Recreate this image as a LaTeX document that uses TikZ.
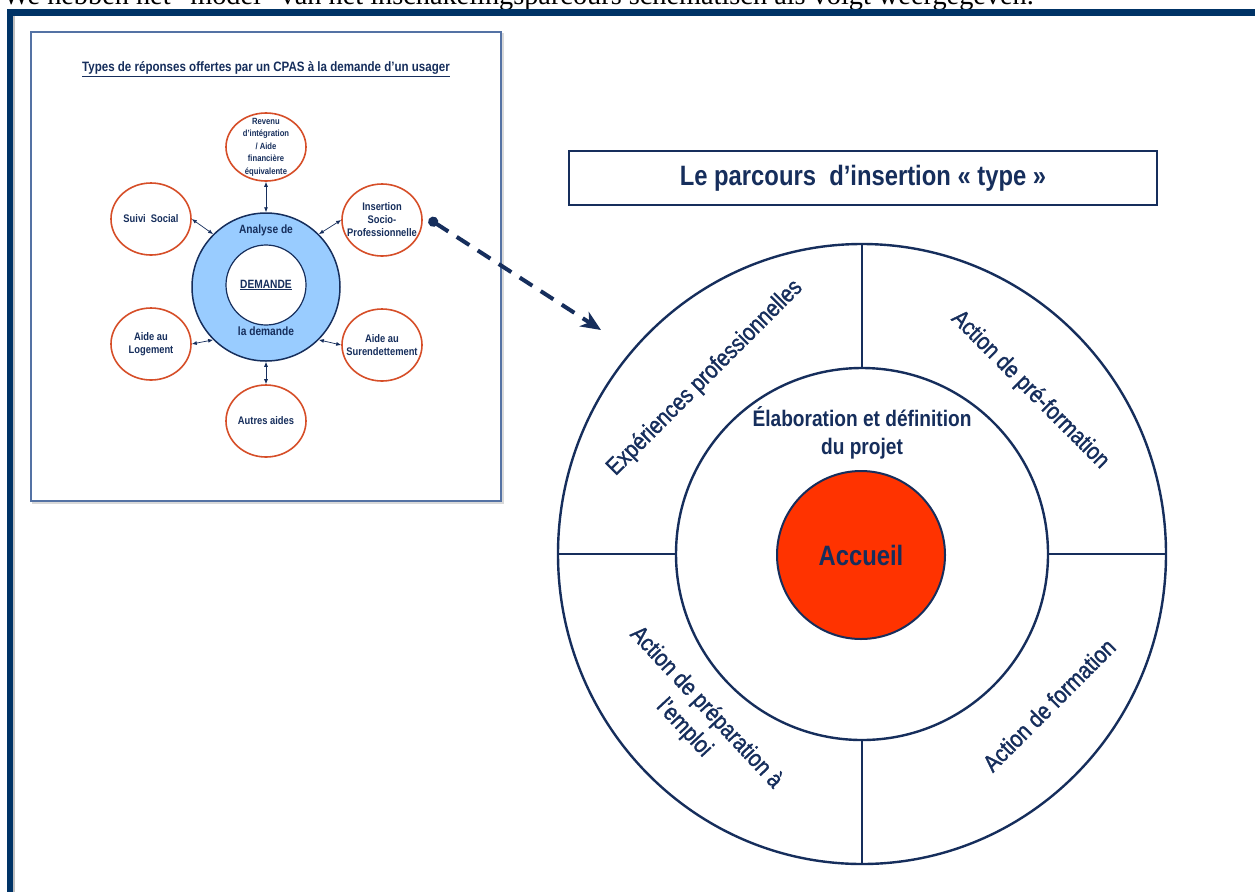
\documentclass[tikz,border=0pt]{standalone}
\usepackage{fontspec}
\setmainfont{Liberation Sans}
\newfontfamily\narrowsf[FakeStretch=0.85]{Liberation Sans}
\newfontfamily\arcsf[FakeStretch=0.85,FakeBold=1.3]{Liberation Sans}
\newfontfamily\bodyserif{Liberation Serif}
\usetikzlibrary{shapes.geometric,arrows.meta}
\definecolor{navy}{RGB}{0,51,102}
\definecolor{inknavy}{RGB}{22,46,92}
\definecolor{boxblue}{RGB}{84,114,164}
\definecolor{ringblue}{RGB}{153,204,255}
\definecolor{rimred}{RGB}{214,78,40}
\definecolor{accred}{RGB}{255,51,0}

\begin{document}
\begin{tikzpicture}[x=1pt,y=-1pt,
    sat/.style={ellipse,draw=rimred,line width=1.6pt,fill=white,minimum width=80pt,minimum height=72pt,inner sep=0pt},
    sattext/.style={text=inknavy,font=\narrowsf\bfseries\fontsize{11}{13}\selectfont,align=center},
    link/.style={{Latex[length=5pt,width=4pt]}-{Latex[length=5pt,width=4pt]},draw=inknavy,line width=0.7pt},
    ringline/.style={draw=inknavy,line width=2.4pt},
    arclabel/.style={text=inknavy,font=\arcsf\fontsize{24}{30}\selectfont,align=center}]

    \useasboundingbox (0,0) rectangle (1255,892);
    \fill[white] (0,0) rectangle (1255,892);

    \begin{scope}
        \clip (0,0) rectangle (1255,9);
        \node[anchor=base west,inner sep=0pt,font=\bodyserif\fontsize{28.3}{32}\selectfont] (intro) at (3,4) {We hebben het “model” van het inschakelingsparcours schematisch als volgt weergegeven.};
    \end{scope}

    \fill[navy] (7,9) rectangle (1255,16);
    \fill[navy] (7,9) rectangle (13,892);
    \fill[black!25] (13,16) rectangle (15,892);

    % overview of the CPAS answers
    \draw[black!15,line width=1.5pt] (33,34) rectangle (503,503);
    \draw[boxblue,line width=1.5pt,fill=white] (31,32) rectangle (501,501);
    \node[text=inknavy,font=\narrowsf\bfseries\fontsize{13.6}{15}\selectfont] (types) at (266,69) {\underline{Types de réponses offertes par un CPAS à la demande d’un usager}};

    \node[circle,draw=inknavy,line width=1.5pt,fill=ringblue,minimum size=148pt,inner sep=0pt] (ring) at (266,287) {};
    \node[circle,draw=inknavy,line width=1.2pt,fill=white,minimum size=80pt,inner sep=0pt,sattext,font=\narrowsf\bfseries\fontsize{12}{14}\selectfont] (dem) at (266,285) {\underline{DEMANDE}};
    \node[sattext,font=\narrowsf\bfseries\fontsize{12}{14}\selectfont] (ana) at (266,230) {Analyse de};
    \node[sattext,font=\narrowsf\bfseries\fontsize{12}{14}\selectfont] (lad) at (266,331) {la demande};

    \node[sat,minimum height=68pt,label={[sattext,font=\narrowsf\bfseries\fontsize{9}{12.5}\selectfont]center:Revenu\\d’intégration\\/ Aide\\financière\\équivalente}] (rev) at (266,147) {};
    \node[sat,label={[sattext]center:Suivi\ \ Social}] (suivi) at (151,219) {};
    \node[sat,label={[sattext]center:Insertion\\Socio-\\Professionnelle}] (ins) at (382,220) {};
    \node[sat,label={[sattext]center:Aide au\\Logement}] (loge) at (151,344) {};
    \node[sat,label={[sattext]center:Aide au\\Surendettement}] (sur) at (382,345) {};
    \node[sat,label={[sattext]center:Autres aides}] (autres) at (266,421) {};

    \draw[link] (ring.north) -- (rev.south);
    \draw[link] (ring.north west) -- (suivi.east);
    \draw[link] (ring.north east) -- (ins.west);
    \draw[link] (ring.south west) -- (loge.east);
    \draw[link] (ring.south east) -- (sur.west);
    \draw[link] (ring.south) -- (autres.north);

    \coordinate (dot) at (429,219);
    \coordinate (tip) at (601,330);
    \draw[inknavy,line width=4pt,dash pattern=on 15pt off 10pt,{Circle[length=10pt]}-{Stealth[length=20pt,width=17pt,inset=6pt]}] (dot) -- (tip);

    % the insertion path
    \node[draw=inknavy,line width=2pt,minimum width=588pt,minimum height=54pt,inner sep=0pt,text=inknavy,font=\narrowsf\bfseries\fontsize{28}{32}\selectfont] (parcours) at (863,178) {Le parcours\ \ d’insertion « type »};

    \coordinate (C) at (862,554);
    \draw[ringline] (C) ellipse [x radius=304,y radius=310];
    \draw[ringline] (C) circle [radius=186];
    \draw[ringline] (C) ++(0,-310) -- ++(0,124);
    \draw[ringline] (C) ++(0,186) -- ++(0,124);
    \draw[ringline] (C) ++(-304,0) -- ++(118,0);
    \draw[ringline] (C) ++(186,0) -- ++(118,0);

    \node[circle,draw=inknavy,line width=2pt,fill=accred,minimum size=168pt,inner sep=0pt,text=inknavy,font=\narrowsf\bfseries\fontsize{28}{32}\selectfont] (acc) at (861,555) {Accueil};
    \node[text=inknavy,font=\narrowsf\bfseries\fontsize{22.5}{28}\selectfont,align=center] (elab) at (862,433) {Élaboration et définition\\du projet};

    \node[arclabel,rotate=45] (exp) at (705,378) {Expériences professionnelles};
    \node[arclabel,rotate=-45] (pref) at (1030,390) {Action de pré-formation};
    \node[arclabel,rotate=45] (form) at (1049,705) {Action de formation};
    \node[arclabel,rotate=-47] (prep) at (695,718) {Action de préparation à\\l’emploi};
\end{tikzpicture}
\end{document}
